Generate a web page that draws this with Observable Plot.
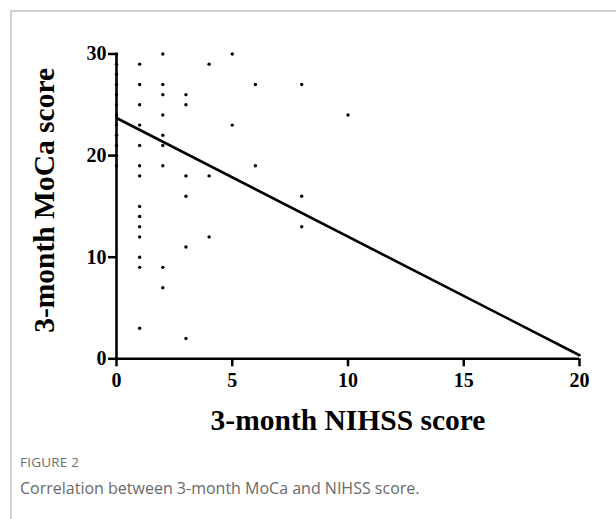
<!DOCTYPE html>
<html>
<head>
<meta charset="utf-8">
<script src="https://cdn.jsdelivr.net/npm/d3@7"></script>
<script src="https://cdn.jsdelivr.net/npm/@observablehq/plot@0.6"></script>
<style>
  html, body { margin: 0; padding: 0; background: #fff; width: 616px; height: 519px; overflow: hidden; }
  #frame { position: absolute; left: 10px; top: 10px; width: 620px; height: 520px;
           border-left: 2px solid #d0d0d0; border-top: 2px solid #d0d0d0; }
  #chart { position: absolute; left: 0; top: 0; }
  #chart svg { overflow: visible; }
  #fig { position: absolute; left: 20px; top: 453px; font-family: "Open Sans", sans-serif;
         font-size: 13.5px; color: #6e6e6e; letter-spacing: 0.2px; }
  #cap { position: absolute; left: 20px; top: 477px; font-family: "Open Sans", sans-serif;
         font-size: 16px; color: #6a6a6a; }
</style>
</head>
<body>
<div id="frame"></div>
<div id="chart"></div>
<div id="fig">FIGURE 2</div>
<div id="cap">Correlation between 3-month MoCa and NIHSS score.</div>
<script>
// NIHSS (x) and MoCa (y) values
const nihss = [
  0,0,0,0,0,0,0,0,0,0,0,0,
  1,1,1,1,1,1,1,1,1,1,1,1,1,1,
  2,2,2,2,2,2,2,2,2,
  3,3,3,3,3,3,
  4,4,4,
  5,5,
  6,6,
  8,8,8,
  10
];
const moca = [
  30,29,28,27,26,25,24,23,22,21,20,19,
  29,27,25,23,21,19,18,15,14,13,12,10,9,3,
  30,27,26,24,22,21,19,9,7,
  26,25,18,16,11,2,
  29,18,12,
  30,23,
  27,19,
  27,16,13,
  24
];
// Regression line endpoints
const fitX = [0, 20];
const fitY = [23.7, 0.35];
const xTicks = [0, 5, 10, 15, 20];
const yTicks = [0, 10, 20, 30];

const points = nihss.map((x, i) => ({x, y: moca[i]}));
const fit = fitX.map((x, i) => ({x, y: fitY[i]}));

const serif = "'Liberation Serif', 'Times New Roman', serif";

const chart = Plot.plot({
  width: 616,
  height: 450,
  marginLeft: 116,
  marginRight: 37,
  marginTop: 53.5,
  marginBottom: 91.7,
  style: { fontFamily: serif, fontWeight: "bold", fontSize: "20px", color: "#000", background: "transparent", overflow: "visible" },
  x: { domain: [0, 20] },
  y: { domain: [0, 30] },
  marks: [
    Plot.dot(points, { x: "x", y: "y", r: 1.7, fill: "#000", stroke: "none" }),
    Plot.line(fit, { x: "x", y: "y", stroke: "#000", strokeWidth: 2.6 }),
    Plot.axisX({ ticks: xTicks, tickSize: 8, tickPadding: 6, strokeWidth: 2.5, label: null,
                 fontSize: 20, fontWeight: "bold", fontFamily: serif, fill: "#000" }),
    Plot.axisY({ ticks: yTicks, tickSize: 8, tickPadding: 2, strokeWidth: 2.5, label: null,
                 fontSize: 20, fontWeight: "bold", fontFamily: serif, fill: "#000" }),
    Plot.ruleX([0], { stroke: "#000", strokeWidth: 2.6 }),
    Plot.ruleY([0], { stroke: "#000", strokeWidth: 2.6 }),
    Plot.text(["3-month NIHSS score"], { frameAnchor: "bottom", dy: 71, fontSize: 29.5,
                 fontWeight: "bold", fontFamily: serif, fill: "#000" }),
    Plot.text(["3-month MoCa score"], { frameAnchor: "left", textAnchor: "middle", dx: -72, dy: -6,
                 rotate: -90, fontSize: 29.5, fontWeight: "bold", fontFamily: serif, fill: "#000" })
  ]
});
document.getElementById("chart").appendChild(chart);
</script>
</body>
</html>
